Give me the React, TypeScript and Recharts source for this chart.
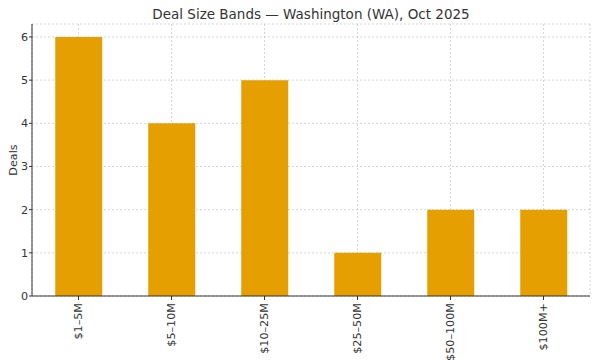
import { Bar, BarChart, CartesianGrid, XAxis, YAxis } from "recharts";

const bands = ["$1–5M", "$5–10M", "$10–25M", "$25–50M", "$50–100M", "$100M+"];
const deals = [6, 4, 5, 1, 2, 2];
const yTicks = [0, 1, 2, 3, 4, 5, 6];

const data = bands.map((band, i) => ({ band, deals: deals[i] }));

const font = "DejaVu Sans, sans-serif";

function RotatedTick({ x, y, payload }: { x?: number; y?: number; payload?: { value: string } }) {
  return (
    <text
      x={0}
      y={0}
      transform={`translate(${x},${(y ?? 0) + 1}) rotate(-90)`}
      textAnchor="end"
      dominantBaseline="central"
      fontSize={11.2}
      fontFamily={font}
      fill="#333"
    >
      {payload?.value}
    </text>
  );
}

export default function App() {
  return (
    <div style={{ position: "fixed", left: 0, top: 0, width: 600, height: 360, background: "#fff" }}>
      <div
        style={{
          position: "absolute",
          left: 32,
          width: 558,
          top: 6,
          textAlign: "center",
          fontFamily: font,
          fontSize: 13.5,
          lineHeight: "16px",
          color: "#333",
        }}
      >
        Deal Size Bands — Washington (WA), Oct 2025
      </div>
      <BarChart
        width={600}
        height={360}
        data={data}
        margin={{ top: 24, right: 10, bottom: 0, left: 0 }}
        barCategoryGap="25%"
      >
        <XAxis
          dataKey="band"
          height={64}
          interval={0}
          tick={<RotatedTick />}
          tickSize={4}
          axisLine={{ stroke: "#333", strokeWidth: 1 }}
          tickLine={{ stroke: "#333" }}
        />
        <YAxis
          width={32}
          domain={[0, 6.3]}
          ticks={yTicks}
          allowDataOverflow
          tickSize={3}
          tickMargin={1}
          tick={{ fontSize: 11.2, fontFamily: font, fill: "#333" }}
          axisLine={{ stroke: "#333", strokeWidth: 1 }}
          tickLine={{ stroke: "#333" }}
          label={{
            value: "Deals",
            angle: -90,
            position: "insideLeft",
            offset: 13,
            style: { fontSize: 11.2, fontFamily: font, fill: "#333", textAnchor: "middle" },
          }}
        />
        <Bar dataKey="deals" fill="#E69F00" isAnimationActive={false} />
        <CartesianGrid stroke="#bbb" strokeDasharray="2 2" strokeOpacity={0.6} />
      </BarChart>
    </div>
  );
}
